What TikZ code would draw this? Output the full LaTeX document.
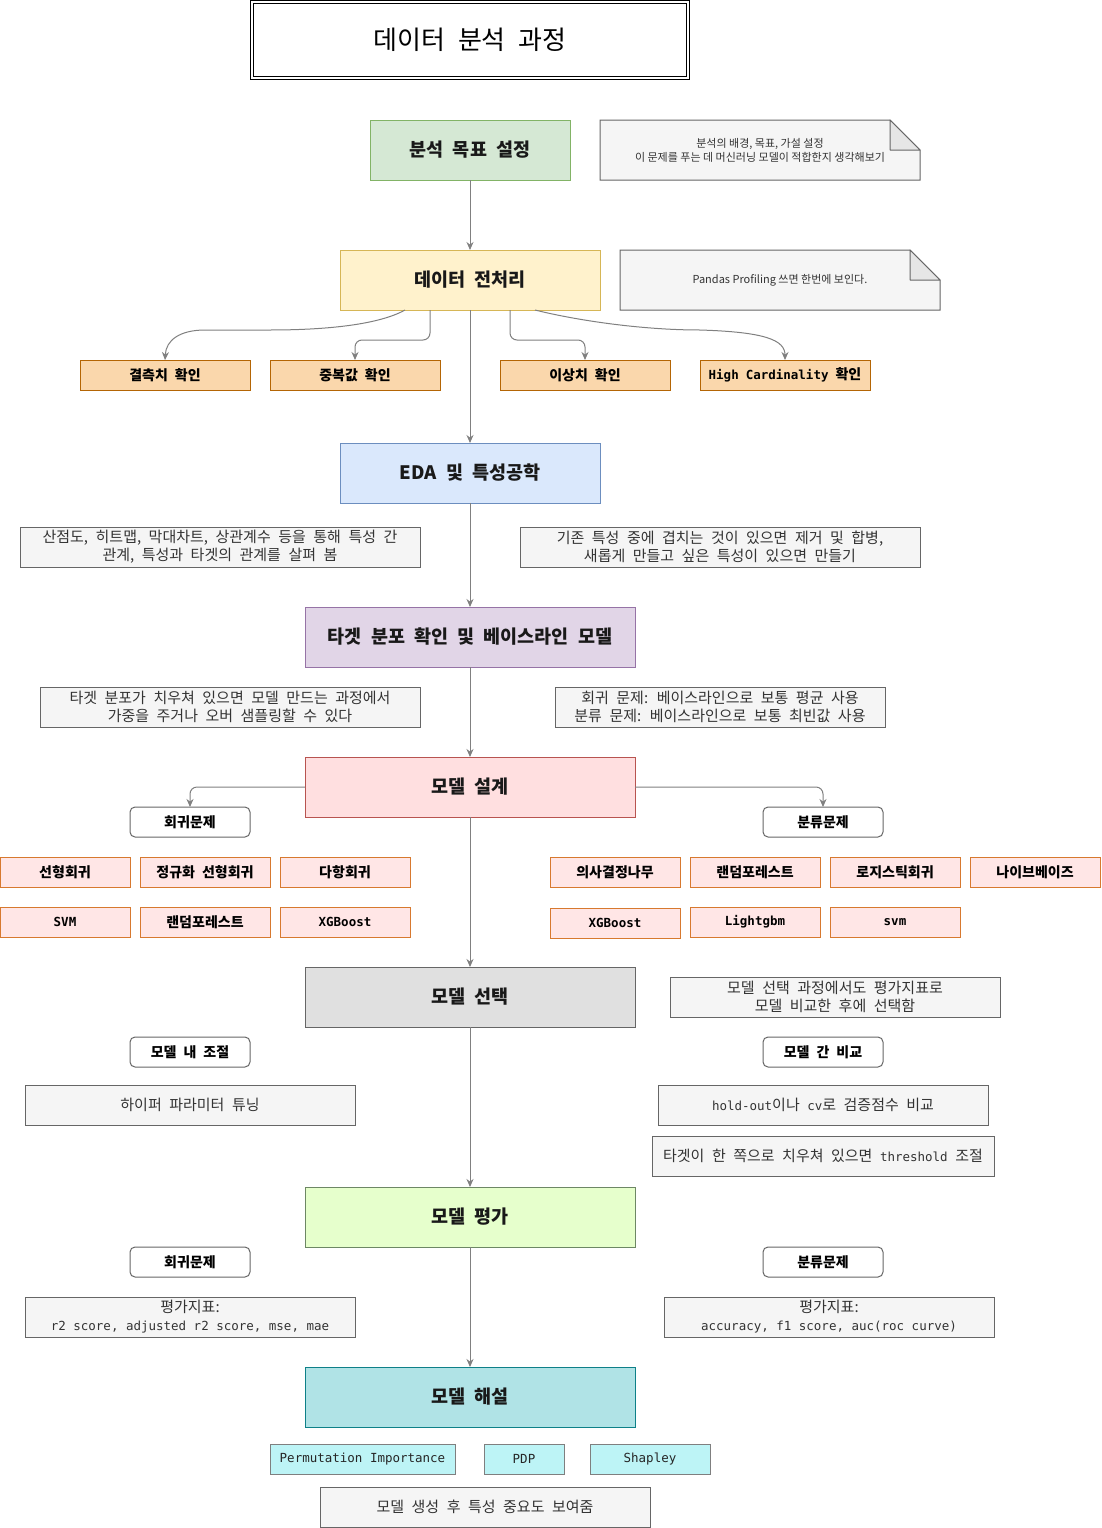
\documentclass[tikz,border=0pt]{standalone}
\usepackage{fontspec}
\setmainfont{Noto Sans CJK KR}
\newfontfamily\monof{DejaVu Sans Mono}
\newcommand\mono{\monof\fontsize{12.5}{16}\selectfont}
\usetikzlibrary{arrows.meta}
\definecolor{goalF}{HTML}{D5E8D4}\definecolor{goalD}{HTML}{82B366}
\definecolor{preF}{HTML}{FFF2CC}\definecolor{preD}{HTML}{D6B656}
\definecolor{edaF}{HTML}{DAE8FC}\definecolor{edaD}{HTML}{6C8EBF}
\definecolor{tgtF}{HTML}{E1D5E7}\definecolor{tgtD}{HTML}{9673A6}
\definecolor{desF}{HTML}{FFDFE0}\definecolor{desD}{HTML}{B85450}
\definecolor{selF}{HTML}{E0E0E0}\definecolor{selD}{HTML}{666666}
\definecolor{evaF}{HTML}{E6FFCC}\definecolor{evaD}{HTML}{6D8764}
\definecolor{intF}{HTML}{B0E3E6}\definecolor{intD}{HTML}{0E8088}
\definecolor{chkF}{HTML}{FAD7AC}\definecolor{chkD}{HTML}{B46504}
\definecolor{modF}{HTML}{FFE6E6}\definecolor{modD}{HTML}{D7792F}
\definecolor{cyF}{HTML}{BDF4F6}\definecolor{cyD}{HTML}{7F7F7F}
\definecolor{noteF}{HTML}{F5F5F5}\definecolor{noteD}{HTML}{666666}
\definecolor{foldF}{HTML}{E6E6E6}
\definecolor{edgeC}{HTML}{808080}
\definecolor{txtC}{HTML}{333333}
\pgfdeclarelayer{bg}
\pgfsetlayers{bg,main}
\newcommand\widesp{\spaceskip=0.5em\relax}
\newcommand\midsp{\spaceskip=0.5em\relax}
\newcommand\bx[7]{\node[#2, minimum width={(#5)-(#3)}, minimum height={(#6)-(#4)}] (#1) at ({((#3)+(#5))/2},{((#4)+(#6))/2}) {#7};}
\newcommand\foldnote[1]{%
\begin{pgfonlayer}{bg}
\filldraw[fill=noteF, draw=noteD, line width=1pt] (#1.north west) -- ([xshift=-30pt]#1.north east) -- ([yshift=-30pt]#1.north east) -- (#1.south east) -- (#1.south west) -- cycle;
\filldraw[fill=foldF, draw=noteD, line width=1pt, line join=round] ([xshift=-30pt]#1.north east) -- ([xshift=-30pt,yshift=-30pt]#1.north east) -- ([yshift=-30pt]#1.north east) -- cycle;
\end{pgfonlayer}}
\begin{document}
\begin{tikzpicture}[x=1pt,y=-1pt,
  base/.style={line width=1pt, inner sep=1pt, outer sep=0pt, align=center},
  mainbox/.style={base, draw, text=black!90, font=\fontsize{18.5}{22}\selectfont\bfseries\midsp},
  chk/.style={base, draw=chkD, fill=chkF, font=\fontsize{14}{17}\selectfont\bfseries\midsp},
  modbox/.style={base, draw=modD, fill=modF, font=\fontsize{14}{17}\selectfont\bfseries\midsp},
  rnd/.style={base, draw=noteD, fill=white, rounded corners=5pt, font=\fontsize{14}{17}\selectfont\bfseries\midsp},
  txtbox/.style={base, draw=noteD, fill=noteF, text=txtC, font=\fontsize{15}{18}\selectfont\widesp},
  note/.style={base, text=txtC, font=\fontsize{11}{14}\selectfont},
  cybox/.style={base, draw=cyD, fill=cyF, text=black!85, font=\mono},
  edge/.style={draw=edgeC, line width=1pt, -{Stealth[length=8pt,width=7pt]}},
]
\useasboundingbox (0,0) rectangle (1101,1528);
\begin{pgfonlayer}{bg}
\fill[white] (0,0) rectangle (1101,1528);
\end{pgfonlayer}

\node[draw, double, double distance=2pt, line width=1pt, minimum width=436, minimum height=76, outer sep=0pt, font=\fontsize{26}{30}\selectfont\midsp] (title) at (470,40) {데이터 분석 과정};

\bx{goal}{mainbox, fill=goalF, draw=goalD}{370}{120}{570}{180}{분석 목표 설정}
\bx{note1}{note}{600}{120}{920}{180}{분석의 배경, 목표, 가설 설정\\이 문제를 푸는 데 머신러닝 모델이 적합한지 생각해보기}
\foldnote{note1}

\bx{pre}{mainbox, fill=preF, draw=preD}{340}{250}{600}{310}{데이터 전처리}
\bx{note2}{note}{620}{250}{940}{310}{Pandas Profiling 쓰면 한번에 보인다.}
\foldnote{note2}

\bx{miss}{chk}{80}{360}{250}{390}{결측치 확인}
\bx{dup}{chk}{270}{360}{440}{390}{중복값 확인}
\bx{outl}{chk}{500}{360}{670}{390}{이상치 확인}
\bx{hc}{chk}{700}{360}{870}{390}{{\mono\bfseries High Cardinality} 확인}

\bx{eda}{mainbox, fill=edaF, draw=edaD}{340}{443}{600}{503}{EDA 및 특성공학}
\bx{edaL}{txtbox}{20}{527}{420}{567}{산점도, 히트맵, 막대차트, 상관계수 등을 통해 특성 간\\관계, 특성과 타겟의 관계를 살펴 봄}
\bx{edaR}{txtbox}{520}{527}{920}{567}{기존 특성 중에 겹치는 것이 있으면 제거 및 합병,\\새롭게 만들고 싶은 특성이 있으면 만들기}

\bx{tgt}{mainbox, fill=tgtF, draw=tgtD}{305}{607}{635}{667}{타겟 분포 확인 및 베이스라인 모델}
\bx{tgtL}{txtbox}{40}{687}{420}{727}{타겟 분포가 치우쳐 있으면 모델 만드는 과정에서\\가중을 주거나 오버 샘플링할 수 있다}
\bx{tgtR}{txtbox}{555}{687}{885}{727}{회귀 문제: 베이스라인으로 보통 평균 사용\\분류 문제: 베이스라인으로 보통 최빈값 사용}

\bx{design}{mainbox, fill=desF, draw=desD}{305}{757}{635}{817}{모델 설계}
\bx{regP}{rnd}{130}{807}{250}{837}{회귀문제}
\bx{clsP}{rnd}{763}{807}{883}{837}{분류문제}

\bx{lin}{modbox}{0}{857}{130}{887}{선형회귀}
\bx{reglin}{modbox}{140}{857}{270}{887}{정규화 선형회귀}
\bx{poly}{modbox}{280}{857}{410}{887}{다항회귀}
\bx{svmR}{modbox}{0}{907}{130}{937}{\mono\bfseries SVM}
\bx{rfR}{modbox}{140}{907}{270}{937}{랜덤포레스트}
\bx{xgbR}{modbox}{280}{907}{410}{937}{\mono\bfseries XGBoost}

\bx{dt}{modbox}{550}{857}{680}{887}{의사결정나무}
\bx{rfC}{modbox}{690}{857}{820}{887}{랜덤포레스트}
\bx{logi}{modbox}{830}{857}{960}{887}{로지스틱회귀}
\bx{nb}{modbox}{970}{857}{1100}{887}{나이브베이즈}
\bx{xgbC}{modbox}{550}{908}{680}{938}{\mono\bfseries XGBoost}
\bx{lgb}{modbox}{690}{907}{820}{937}{\mono\bfseries Lightgbm}
\bx{svmC}{modbox}{830}{907}{960}{937}{\mono\bfseries svm}

\bx{sel}{mainbox, fill=selF, draw=selD}{305}{967}{635}{1027}{모델 선택}
\bx{selN}{txtbox}{670}{977}{1000}{1017}{모델 선택 과정에서도 평가지표로\\모델 비교한 후에 선택함}
\bx{inner}{rnd}{130}{1037}{250}{1067}{모델 내 조절}
\bx{between}{rnd}{763}{1037}{883}{1067}{모델 간 비교}
\bx{hp}{txtbox}{25}{1085}{355}{1125}{하이퍼 파라미터 튜닝}
\bx{hold}{txtbox}{658}{1085}{988}{1125}{{\mono hold-out}이나 {\mono cv}로 검증점수 비교}
\bx{thr}{txtbox}{652}{1136}{994}{1176}{타겟이 한 쪽으로 치우쳐 있으면 {\mono threshold} 조절}

\bx{eval}{mainbox, fill=evaF, draw=evaD}{305}{1187}{635}{1247}{모델 평가}
\bx{regE}{rnd}{130}{1247}{250}{1277}{회귀문제}
\bx{clsE}{rnd}{763}{1247}{883}{1277}{분류문제}
\bx{metL}{txtbox}{25}{1297}{355}{1337}{평가지표:\\{\mono r2 score, adjusted r2 score, mse, mae}}
\bx{metR}{txtbox}{664}{1297}{994}{1337}{평가지표:\\{\mono accuracy, f1 score, auc(roc curve)}}

\bx{interp}{mainbox, fill=intF, draw=intD}{305}{1367}{635}{1427}{모델 해설}
\bx{perm}{cybox}{270}{1444}{455}{1474}{Permutation Importance}
\bx{pdp}{cybox}{484}{1444}{564}{1474}{PDP}
\bx{shap}{cybox}{590}{1444}{710}{1474}{Shapley}
\bx{imp}{txtbox}{320}{1487}{650}{1527}{모델 생성 후 특성 중요도 보여줌}

% connectors
\draw[edge] (goal) -- (pre);
\draw[edge] (pre) -- (eda);
\draw[edge] (eda) -- (tgt);
\draw[edge] (tgt) -- (design);
\draw[edge] (design) -- (sel);
\draw[edge] (sel) -- (eval);
\draw[edge] (eval) -- (interp);
\draw[edge] ([xshift=-65pt]pre.south) .. controls (380,324) and (330,330) .. (270,330) -- (205,330) .. controls (180,330) and (166,340) .. (miss.north);
\draw[edge, rounded corners=7pt] ([xshift=-40pt]pre.south) -- ++(0,30) -| (dup.north);
\draw[edge, rounded corners=7pt] ([xshift=40pt]pre.south) -- ++(0,30) -| (outl.north);
\draw[edge] ([xshift=65pt]pre.south) .. controls (575,320) and (640,330) .. (700,330) .. controls (765,332) and (785,340) .. (hc.north);
\draw[edge, rounded corners=7pt] (design.west) -| (regP.north);
\draw[edge, rounded corners=7pt] (design.east) -| (clsP.north);
\end{tikzpicture}
\end{document}
